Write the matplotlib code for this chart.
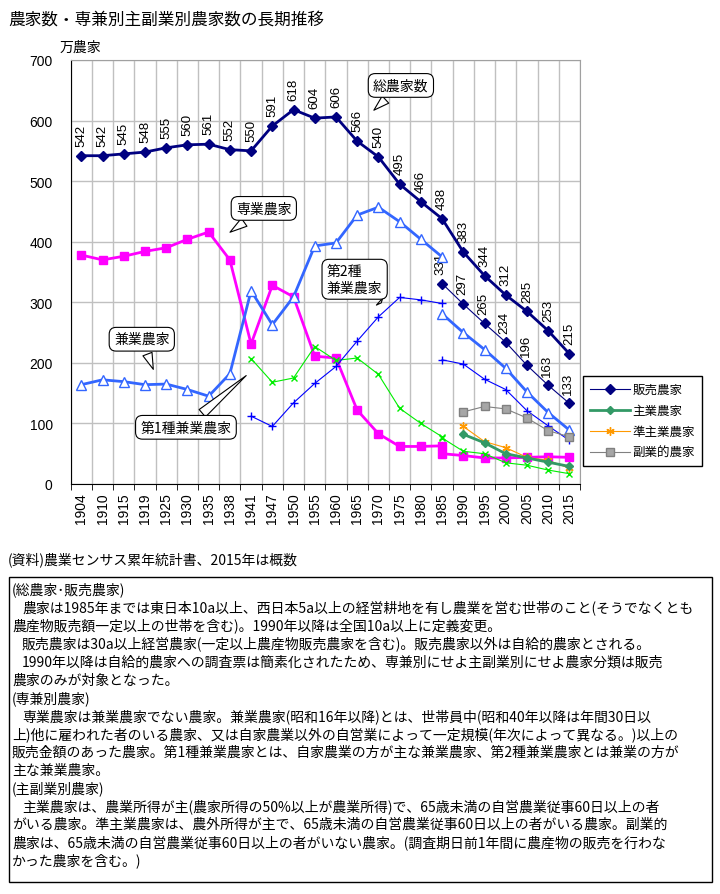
import numpy as np
import matplotlib.pyplot as plt
from matplotlib.patches import Rectangle

plt.rcParams['font.family'] = ['Liberation Sans', 'Noto Sans CJK JP', 'DejaVu Sans']
JP = ['Noto Sans CJK JP', 'DejaVu Sans']

years = ['1904', '1910', '1915', '1919', '1925', '1930', '1935', '1938', '1941', '1947',
         '1950', '1955', '1960', '1965', '1970', '1975', '1980', '1985', '1990', '1995',
         '2000', '2005', '2010', '2015']

# 総農家数 1904-2015
total_farms = [542, 542, 545, 548, 555, 560, 561, 552, 550, 591, 618, 604, 606, 566,
               540, 495, 466, 438, 383, 344, 312, 285, 253, 215]
# 販売農家 1985-2015
sales_farms = [331, 297, 265, 234, 196, 163, 133]

# 専業・兼業 (総農家ベース) 1904-1985
sengyo_old = [378, 370, 376, 384, 390, 404, 416, 370, 231, 328, 309, 211, 208, 122,
              83, 62, 62, 63]
kengyo_old = [164, 172, 169, 164, 165, 156, 145, 182, 319, 263, 309, 393, 398, 444,
              457, 433, 404, 375]
# 第1種・第2種兼業 (総農家ベース) 1941-1985
dai1_old = [207, 168, 175, 227, 204, 208, 181, 125, 100, 78]
dai2_old = [112, 95, 134, 166, 194, 236, 276, 308, 304, 298]

# 販売農家ベース 1985-2015
sengyo_new = [50, 47, 43, 43, 44, 45, 44]
kengyo_new = [281, 250, 222, 191, 152, 118, 89]
dai1_new = [76, 54, 50, 35, 31, 23, 17]
dai2_new = [205, 198, 173, 156, 121, 96, 72]

# 主副業別 1990-2015
shugyo = [82, 68, 50, 43, 36, 29]
junshugyo = [95, 70, 60, 44, 39, 26]
fukugyo = [119, 128, 124, 109, 88, 78]


def xs(first_year, values):
    start = years.index(first_year)
    return np.arange(start, start + len(values))


W, H = 720, 895


def fx(px):
    return px / W


def fy(py):
    return 1 - py / H


fig = plt.figure(figsize=(7.2, 8.95), dpi=100)
ax = fig.add_axes([fx(70.7), fy(485), fx(580) - fx(70.7), fy(61) - fy(485)])

NAVY = '#000080'
PINK = '#FF00FF'
BLUE = '#3366FF'
BLUE2 = '#0000FF'
LIME = '#00EE00'
SEAGREEN = '#339966'
ORANGE = '#FF9900'
GRAY = '#808080'

thick = 2.0
thin = 0.8

# 専業
ax.plot(xs('1904', sengyo_old), sengyo_old, color=PINK, lw=thick, marker='s', ms=5.5, zorder=4)
ax.plot(xs('1985', sengyo_new), sengyo_new, color=PINK, lw=thick, marker='s', ms=5.5, zorder=4)
# 兼業
ax.plot(xs('1904', kengyo_old), kengyo_old, color=BLUE, lw=thick, marker='^', ms=7,
        mfc='white', mec=BLUE, mew=1, zorder=4)
ax.plot(xs('1985', kengyo_new), kengyo_new, color=BLUE, lw=thick, marker='^', ms=7,
        mfc='white', mec=BLUE, mew=1, zorder=4)
# 第1種
ax.plot(xs('1941', dai1_old), dai1_old, color=LIME, lw=thin, marker='x', ms=5, mew=1, zorder=4)
ax.plot(xs('1985', dai1_new), dai1_new, color=LIME, lw=thin, marker='x', ms=5, mew=1, zorder=4)
# 第2種
ax.plot(xs('1941', dai2_old), dai2_old, color=BLUE2, lw=thin, marker='+', ms=6, mew=1, zorder=4)
ax.plot(xs('1985', dai2_new), dai2_new, color=BLUE2, lw=thin, marker='+', ms=6, mew=1, zorder=4)

# 主副業別
h_fuku, = ax.plot(xs('1990', fukugyo), fukugyo, color=GRAY, lw=thin, marker='s', ms=5.5,
                  mfc='#A6A6A6', mec=GRAY, zorder=5)
h_jun, = ax.plot(xs('1990', junshugyo), junshugyo, color=ORANGE, lw=thin, marker=(6, 2, 0),
                 ms=6, mew=1, zorder=5)
h_shu, = ax.plot(xs('1990', shugyo), shugyo, color=SEAGREEN, lw=thick, marker='D', ms=4,
                 zorder=5)

# 総農家・販売農家
ax.plot(xs('1904', total_farms), total_farms, color=NAVY, lw=thick, marker='D', ms=5.5, zorder=6)
h_sales, = ax.plot(xs('1985', sales_farms), sales_farms, color=NAVY, lw=thin, marker='D',
                   ms=5.5, zorder=6)

for xv, v in zip(xs('1904', total_farms), total_farms):
    ax.annotate(str(v), (xv, v), xytext=(0, 7), textcoords='offset points', rotation=90,
                ha='center', va='bottom', fontsize=9.5)
for xv, v in zip(xs('1985', sales_farms), sales_farms):
    ax.annotate(str(v), (xv, v), xytext=(-1, 7), textcoords='offset points', rotation=90,
                ha='center', va='bottom', fontsize=9.5)

# axes
ax.set_xlim(-0.5, len(years) - 0.5)
ax.set_ylim(0, 700)
ax.set_yticks(range(0, 701, 100))
ax.set_xticks(range(len(years)))
ax.set_xticklabels(years, rotation=90, fontsize=10)
ax.set_xticks(np.arange(-0.5, len(years)), minor=True)
ax.tick_params(axis='x', which='major', length=0, pad=6)
ax.tick_params(axis='x', which='minor', length=4, direction='out', color='black')
ax.tick_params(axis='y', length=0, pad=13, labelsize=10)
ax.grid(axis='y', which='major', color='#C0C0C0', lw=1)
ax.grid(axis='x', which='minor', color='#C0C0C0', lw=1)
ax.set_axisbelow(True)
for s in ['top', 'right']:
    ax.spines[s].set_color('#A0A0A0')
for s in ['left', 'bottom']:
    ax.spines[s].set_color('black')

# callouts
box = dict(boxstyle='round,pad=0.35,rounding_size=0.5', fc='white', ec='black', lw=0.8)
wedge = dict(arrowstyle='wedge,tail_width=0.7,shrink_factor=0.5', fc='white', ec='black', lw=0.8)
callouts = [
    ('総農家数', (13.69, 614), (15.06, 658)),
    ('専業農家', (6.9, 413), (8.6, 455)),
    ('第2種\n兼業農家', (14.23, 296), (12.88, 338)),
    ('兼業農家', (3.44, 185), (2.85, 239)),
    ('第1種兼業農家', (7.87, 182), (4.93, 93.6)),
]
for txt, tip, pos in callouts:
    ax.annotate(txt, tip, xytext=pos, textcoords='data', ha='center', va='center',
                multialignment='left', fontsize=10, family=JP, bbox=box, arrowprops=wedge,
                zorder=8)

# legend
fig.legend([h_sales, h_shu, h_jun, h_fuku], ['販売農家', '主業農家', '準主業農家', '副業的農家'],
           loc='upper left', bbox_to_anchor=(fx(583), fy(377)), frameon=True, fancybox=False,
           edgecolor='black', framealpha=1, borderaxespad=0, borderpad=0.55,
           handlelength=3.2, handletextpad=0.2, labelspacing=0.65, prop={'family': JP, 'size': 9})

# title and units
fig.text(fx(8), fy(20), '農家数・専兼別主副業別農家数の長期推移', fontsize=12, family=JP,
         ha='left', va='center')
fig.text(fx(60), fy(48), '万農家', fontsize=10, family=JP, ha='left', va='center')

fig.text(fx(8), fy(560), '(資料)農業センサス累年統計書、2015年は概数', fontsize=10, family=JP,
         ha='left', va='center')

notes = [
    '(総農家･販売農家)',
    '　農家は1985年までは東日本10a以上、西日本5a以上の経営耕地を有し農業を営む世帯のこと(そうでなくとも',
    '農産物販売額一定以上の世帯を含む)。1990年以降は全国10a以上に定義変更。',
    '　販売農家は30a以上経営農家(一定以上農産物販売農家を含む)。販売農家以外は自給的農家とされる。',
    '　1990年以降は自給的農家への調査票は簡素化されたため、専兼別にせよ主副業別にせよ農家分類は販売',
    '農家のみが対象となった。',
    '(専兼別農家)',
    '　専業農家は兼業農家でない農家。兼業農家(昭和16年以降)とは、世帯員中(昭和40年以降は年間30日以',
    '上)他に雇われた者のいる農家、又は自家農業以外の自営業によって一定規模(年次によって異なる。)以上の',
    '販売金額のあった農家。第1種兼業農家とは、自家農業の方が主な兼業農家、第2種兼業農家とは兼業の方が',
    '主な兼業農家。',
    '(主副業別農家)',
    '　主業農家は、農業所得が主(農家所得の50%以上が農業所得)で、65歳未満の自営農業従事60日以上の者',
    'がいる農家。準主業農家は、農外所得が主で、65歳未満の自営農業従事60日以上の者がいる農家。副業的',
    '農家は、65歳未満の自営農業従事60日以上の者がいない農家。(調査期日前1年間に農産物の販売を行わな',
    'かった農家を含む。)',
]
fig.patches.append(Rectangle((fx(9), fy(883)), fx(712) - fx(9), fy(578) - fy(883),
                             transform=fig.transFigure, fill=False, ec='black', lw=1))
for i, line in enumerate(notes):
    x0 = 12
    if line.startswith('　'):
        x0 = 22
        line = line[1:]
    fig.text(fx(x0), fy(590 + 18.07 * i), line, fontsize=10, family=JP, ha='left', va='center')

fig.savefig('out.png', dpi=100)
